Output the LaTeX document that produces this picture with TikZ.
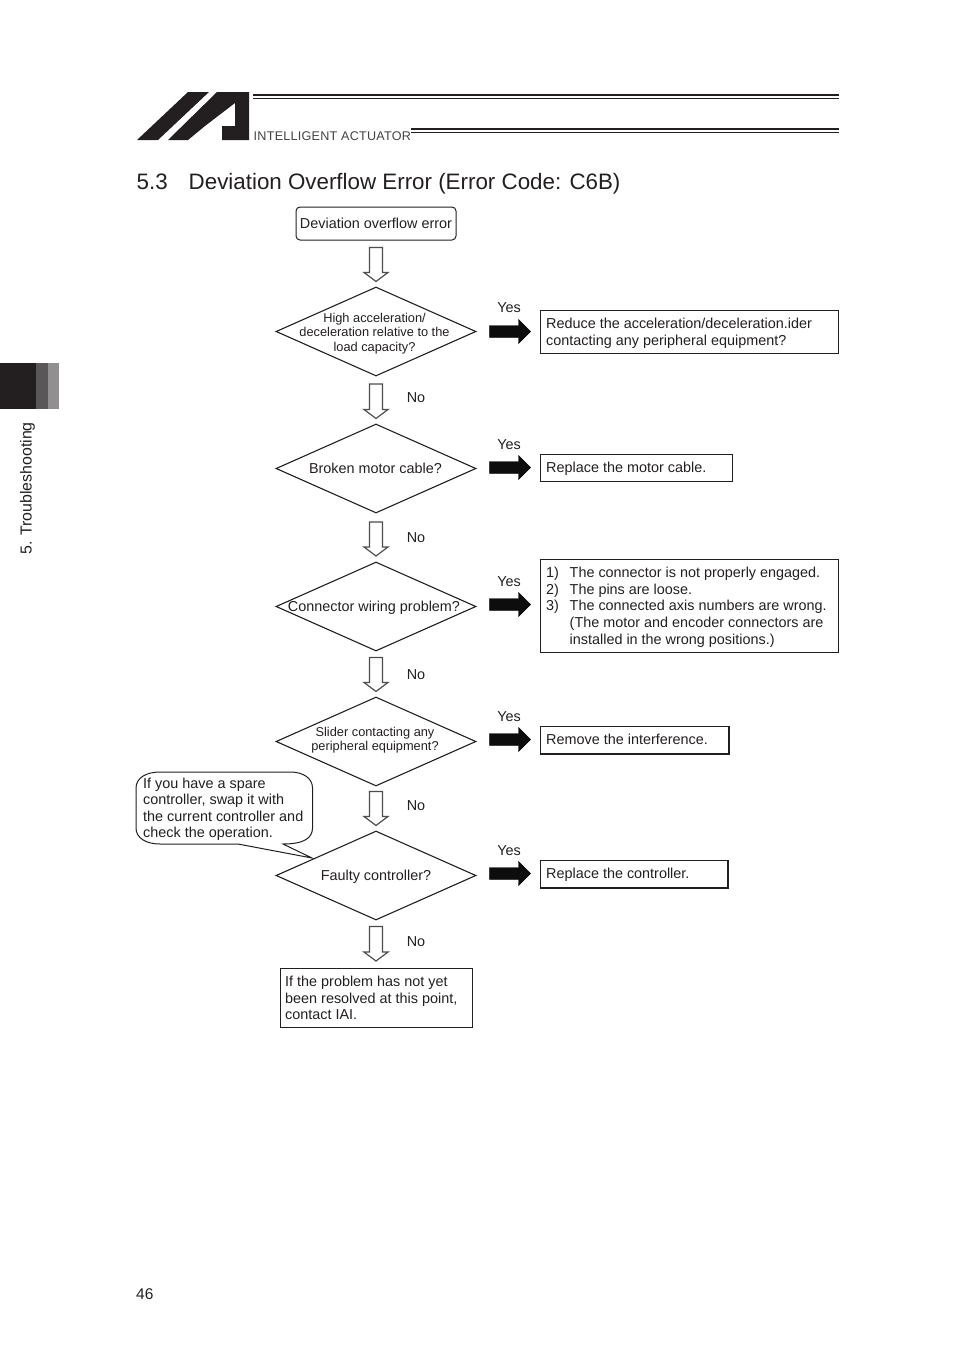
\documentclass[tikz,border=0pt]{standalone}
\usepackage{fontspec}
\setmainfont{Liberation Sans}
\usetikzlibrary{shapes.geometric,calc}
\definecolor{ink}{HTML}{231F20}
\tikzset{
 x=1pt,y=-1pt,
 dia/.style={draw=ink,shape=diamond,minimum width=200pt,minimum height=89pt,inner sep=0pt,line width=1.1pt},
 dtxt/.style={font=\fontsize{14.4}{16.6}\selectfont,text=ink,align=center,inner sep=0pt},
 dsmall/.style={font=\fontsize{12.8}{14.4}\selectfont,text=ink,align=center,inner sep=0pt},
 abox/.style={draw=ink,line width=1pt,inner sep=0pt,anchor=north west},
 txt/.style={font=\fontsize{14.4}{16.6}\selectfont,text=ink,align=left,inner sep=0pt,anchor=west},
 lab/.style={font=\fontsize{14.4}{16.6}\selectfont,text=ink,inner sep=0pt},
 hollowarrow/.style={draw=ink!80,line width=1.2pt,fill=white,line join=miter,to path={
   let \p1=(\tikztostart),\p2=(\tikztotarget) in
   ({\x1-6.5pt},\y1) -- ({\x1+6.5pt},\y1) -- ({\x1+6.5pt},{\y2+9pt}) -- ({\x1+12pt},{\y2+9pt}) -- (\x2,\y2)
   -- ({\x1-12pt},{\y2+9pt}) -- ({\x1-6.5pt},{\y2+9pt}) -- cycle}},
 solidarrow/.style={fill=black!95,to path={
   let \p1=(\tikztostart),\p2=(\tikztotarget) in
   (\x1,{\y1+6pt}) -- ({\x2-12pt},{\y1+6pt}) -- ({\x2-12pt},{\y1+12pt}) -- (\x2,\y1)
   -- ({\x2-12pt},{\y1-12pt}) -- ({\x2-12pt},{\y1-6pt}) -- (\x1,{\y1-6pt}) -- cycle}},
}
\begin{document}
\begin{tikzpicture}
\useasboundingbox (0,0) rectangle (954,1350);
% side tab
\fill[ink] (0,363) rectangle (36,409);
\fill[ink!75] (36,363) rectangle (48,409);
\fill[ink!50] (48,363) rectangle (59,409);
\node[lab,rotate=90,anchor=west,font=\fontsize{15.9}{16}\selectfont] (side) at (27.5,555) {5. Troubleshooting};
% logo
\fill[ink] (188,92) -- (209,92) -- (158,140) -- (137,140) -- cycle;
\fill[ink] (217,92) -- (249,92) -- (249,140) -- (222,140) -- (222,126) -- (235,126) -- (235,103)
  -- (205,126) -- (188,140) -- (168,140) -- cycle;
\fill[ink] (253,94.3) rectangle (839,96.3);
\fill[ink] (253,97.6) rectangle (839,98.4);
\fill[ink] (411,128.3) rectangle (839,130.3);
\fill[ink] (411,131.6) rectangle (839,132.4);
\node[lab,anchor=west,text=ink!85,font=\fontsize{12.6}{14}\selectfont\addfontfeature{LetterSpace=2}] (brand) at (253.5,136) {INTELLIGENT ACTUATOR};
% title
\node[lab,anchor=west,font=\fontsize{22.35}{24}\selectfont] (tnum) at (136.5,181.5) {5.3};
\node[lab,anchor=west,font=\fontsize{22.35}{24}\selectfont] (title) at (188.5,183.5) {Deviation Overflow Error (Error Code: C6B)};
% start
\node[draw=ink,line width=1pt,rounded corners=4pt,minimum width=160pt,minimum height=33pt,inner sep=0pt,lab] (start) at (376,223.5) {\raisebox{1pt}{Deviation overflow error}};
% diamonds
\node[dia] (d1) at (376,331.5) {};
\node[dia] (d2) at (376,468.5) {};
\node[dia] (d3) at (376,606.5) {};
\node[dia] (d4) at (376,741.5) {};
\node[dia] (d5) at (376,875.5) {};
\node[dsmall] (t1) at (374.5,333.5) {High acceleration/\\deceleration relative to the\\load capacity?};
\node[dtxt] (t2) at (375.5,468) {Broken motor cable?};
\node[dtxt] (t3) at (374,607.5) {Connector wiring problem?};
\node[dsmall] (t4) at (375,740) {Slider contacting any\\peripheral equipment?};
\node[dtxt] (t5) at (376,876.5) {Faulty controller?};
% answer boxes
\node[abox,minimum width=298pt,minimum height=43pt] (b1) at (540,310) {};
\node[abox,minimum width=192pt,minimum height=27pt] (b2) at (540,453.5) {};
\node[abox,minimum width=298pt,minimum height=93pt] (b3) at (540,559) {};
\node[abox,minimum width=187.5pt,minimum height=27pt] (b4) at (540,725.5) {};
\node[abox,minimum width=186.5pt,minimum height=27pt] (b5) at (540,860) {};
\node[abox,minimum width=192.5pt,minimum height=59.5pt] (b6) at (279.5,967.5) {};
\draw[ink,line width=2pt] (b4.north east) -- (b4.south east) -- (b4.south west);
\draw[ink,line width=2pt] (b5.north east) -- (b5.south east) -- (b5.south west);
\node[txt] at (546,333.5) {Reduce the acceleration/deceleration.ider\\contacting any peripheral equipment?};
\node[txt] at (546,469) {Replace the motor cable.};
\node[txt,anchor=north west] at (546,567) {1)\\2)\\3)};
\node[txt,anchor=north west] at (569.5,567) {The connector is not properly engaged.\\The pins are loose.\\The connected axis numbers are wrong.\\(The motor and encoder connectors are\\installed in the wrong positions.)};
\node[txt] at (546,739) {Remove the interference.};
\node[txt] at (546,875) {Replace the controller.};
\node[txt] at (285,998) {If the problem has not yet\\been resolved at this point,\\contact IAI.};
% callout
\draw[ink,line width=1pt,fill=white] (136,788) .. controls (136,778) and (146,772) .. (160,772)
 -- (290,772) .. controls (303,772) and (312.5,778) .. (312.5,788)
 -- (312.5,828) .. controls (312.5,838) and (304,844) .. (283,844)
 -- (312,858) -- (238,844) -- (160,844)
 .. controls (146,844) and (136,838) .. (136,828) -- cycle;
\node[txt,anchor=north west] (note) at (143,777.5) {If you have a spare\\controller, swap it with\\the current controller and\\check the operation.};
% connectors
\coordinate (a0) at ([yshift=-7pt]start.south);
\coordinate (a0e) at ([yshift=5pt]d1.north);
\draw[hollowarrow] (a0) to (a0e);
\draw[hollowarrow] ([yshift=-7.5pt]d1.south) to ([yshift=5pt]d2.north);
\draw[hollowarrow] ([yshift=-8.5pt]d2.south) to ([yshift=5.5pt]d3.north);
\draw[hollowarrow] ([yshift=-6pt]d3.south) to ([yshift=5pt]d4.north);
\draw[hollowarrow] ([yshift=-5pt]d4.south) to ([yshift=5pt]d5.north);
\draw[hollowarrow] ([yshift=-6pt]d5.south) to ([yshift=6.5pt]b6.north-|d5.south);
\draw[solidarrow] ([xshift=13pt]d1.east) to ([xshift=-9.5pt]b1.west);
\draw[solidarrow] ([xshift=13pt,yshift=1pt]d2.east) to ([xshift=-9.5pt]b2.west);
\draw[solidarrow] ([xshift=13pt,yshift=2pt]d3.east) to ([xshift=-9.5pt]b3.west);
\draw[solidarrow] ([xshift=13pt,yshift=2pt]d4.east) to ([xshift=-9.5pt]b4.west);
\draw[solidarrow] ([xshift=13pt,yshift=2pt]d5.east) to ([xshift=-9.5pt]b5.west);
% yes / no labels
\node[lab] (y1) at (509,307.5) {Yes};
\node[lab] (y2) at (509,444.5) {Yes};
\node[lab] (y3) at (509,581.5) {Yes};
\node[lab] (y4) at (509,716.5) {Yes};
\node[lab] (y5) at (509,850.5) {Yes};
\node[lab] (n1) at (416,397.5) {No};
\node[lab] (n2) at (416,537.5) {No};
\node[lab] (n3) at (416,674.5) {No};
\node[lab] (n4) at (416,805.5) {No};
\node[lab] (n5) at (416,941.5) {No};
\node[lab,anchor=west,font=\fontsize{15.5}{17}\selectfont] (page) at (136,1294) {46};
\end{tikzpicture}
\end{document}
